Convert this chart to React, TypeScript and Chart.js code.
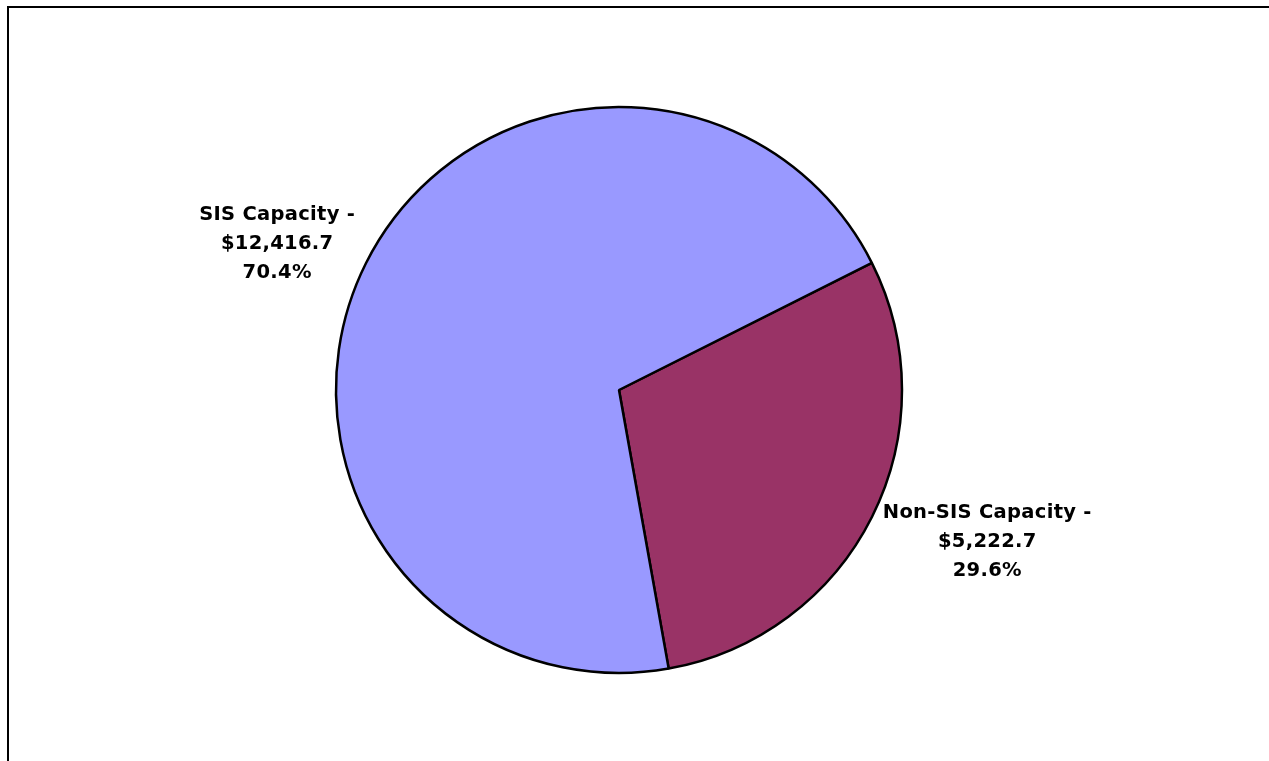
import React, { useEffect, useRef } from "react";
import { Chart, registerables } from "chart.js";

Chart.register(...registerables);

const categories = ["Non-SIS Capacity", "SIS Capacity"];
const values = [5222.7, 12416.7];
const valueLabels = ["$5,222.7", "$12,416.7"];
const percentLabels = ["29.6%", "70.4%"];
const colors = ["#993366", "#9999FF"];

const labelPlugin = {
  id: "outsideLabels",
  afterDatasetsDraw(chart: any) {
    const ctx = chart.ctx;
    const meta = chart.getDatasetMeta(0);
    ctx.save();
    ctx.font = "bold 19.5px 'DejaVu Sans'";
    (ctx as any).letterSpacing = "0.3px";
    ctx.fillStyle = "#000";
    ctx.textBaseline = "middle";
    ctx.textAlign = "center";
    const lineH = 29;
    meta.data.forEach((arc: any, i: number) => {
      const { x, y, startAngle, endAngle, outerRadius } = arc.getProps(
        ["x", "y", "startAngle", "endAngle", "outerRadius"],
        true
      );
      const mid = (startAngle + endAngle) / 2;
      const dx = Math.cos(mid);
      const dy = Math.sin(mid);
      const px = x + dx * (outerRadius + 12);
      const py = y + dy * (outerRadius + 12) + dy * 38 + 3;
      const lines = [categories[i] + " -", valueLabels[i], percentLabels[i]];
      const maxW = Math.max(...lines.map((l) => ctx.measureText(l).width));
      const cx = dx >= 0 ? px + maxW / 2 : px - maxW / 2;
      const top = py - ((lines.length - 1) * lineH) / 2;
      lines.forEach((l, k) => ctx.fillText(l, cx, top + k * lineH));
    });
    ctx.restore();
  },
};

export default function App() {
  const ref = useRef<HTMLCanvasElement>(null);
  useEffect(() => {
    if (!ref.current) return;
    const chart = new Chart(ref.current, {
      type: "pie",
      data: {
        labels: categories,
        datasets: [
          {
            data: values,
            backgroundColor: colors,
            borderColor: "#000000",
            borderWidth: 2.5,
          },
        ],
      },
      options: {
        responsive: false,
        animation: false,
        rotation: 63.3,
        radius: 283,
        layout: { padding: { left: 0, right: 31, top: 19, bottom: 0 } },
        plugins: {
          legend: { display: false },
          tooltip: { enabled: false },
        },
      },
      plugins: [labelPlugin],
    });
    return () => chart.destroy();
  }, []);
  return (
    <div>
      <div
        style={{
          position: "fixed",
          left: 7,
          top: 6,
          width: 1262,
          height: 755,
          boxSizing: "border-box",
          borderTop: "2px solid #000",
          borderLeft: "2px solid #000",
        }}
      />
      <canvas
        ref={ref}
        width={1269}
        height={761}
        style={{ position: "fixed", left: 0, top: 0, width: 1269, height: 761 }}
      />
    </div>
  );
}
